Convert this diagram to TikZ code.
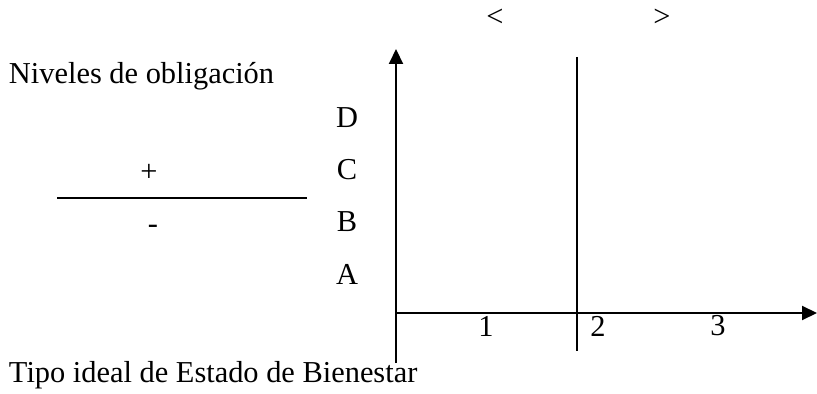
\documentclass[tikz,border=0pt]{standalone}
\usepackage{fontspec}
\setmainfont{Liberation Serif}
\usetikzlibrary{arrows.meta}
\usetikzlibrary{positioning}

\begin{document}
\begin{tikzpicture}[x=0.5pt, y=-0.5pt, node distance = 26pt, auto,
		font=\fontsize{15.2}{18}\selectfont, line width=1pt,
		>={Triangle[length=7.5pt,width=7pt]}]
			\useasboundingbox (0,0) rectangle (817,394);
			% ejes
			\coordinate (Ybot) at (396,363);
			\coordinate (Ytop) at (396,49);
			\coordinate (Orig) at (396,313);
			\coordinate (Xend) at (817,313);
			\coordinate (Mtop) at (577,57);
			\coordinate (Mbot) at (577,351);
			\draw[->] (Ybot) -- (Ytop);
			\draw[->] (Orig) -- (Xend);
			\draw (Mtop) -- (Mbot);
			\node (Menor) at (495,18) {<};
			\node (Mayor) at (662,18) {>};
			% niveles
			\node[anchor=west, inner xsep=0pt] (Niveles) at (8,76) {Niveles de obligación};
			\node (D) at (347,118) {D};
			\node[below of=D] (C) {C};
			\node[below of=C] (B) {B};
			\node[below of=B] (A) {A};
			\coordinate (Lizq) at (57,198);
			\coordinate (Lder) at (307,198);
			\draw (Lizq) -- (Lder);
			\node (Mas) at (149,173) {+};
			\node (Menos) at (153,229) {-};
			% tipos
			\node (T1) at (486,326) {1};
			\node (T2) at (598,326) {2};
			\node (T3) at (718,326) {3};
			\node[anchor=west, inner xsep=0pt] (Tipo) at (8,375) {Tipo ideal de Estado de Bienestar};
		\end{tikzpicture}
\end{document}
